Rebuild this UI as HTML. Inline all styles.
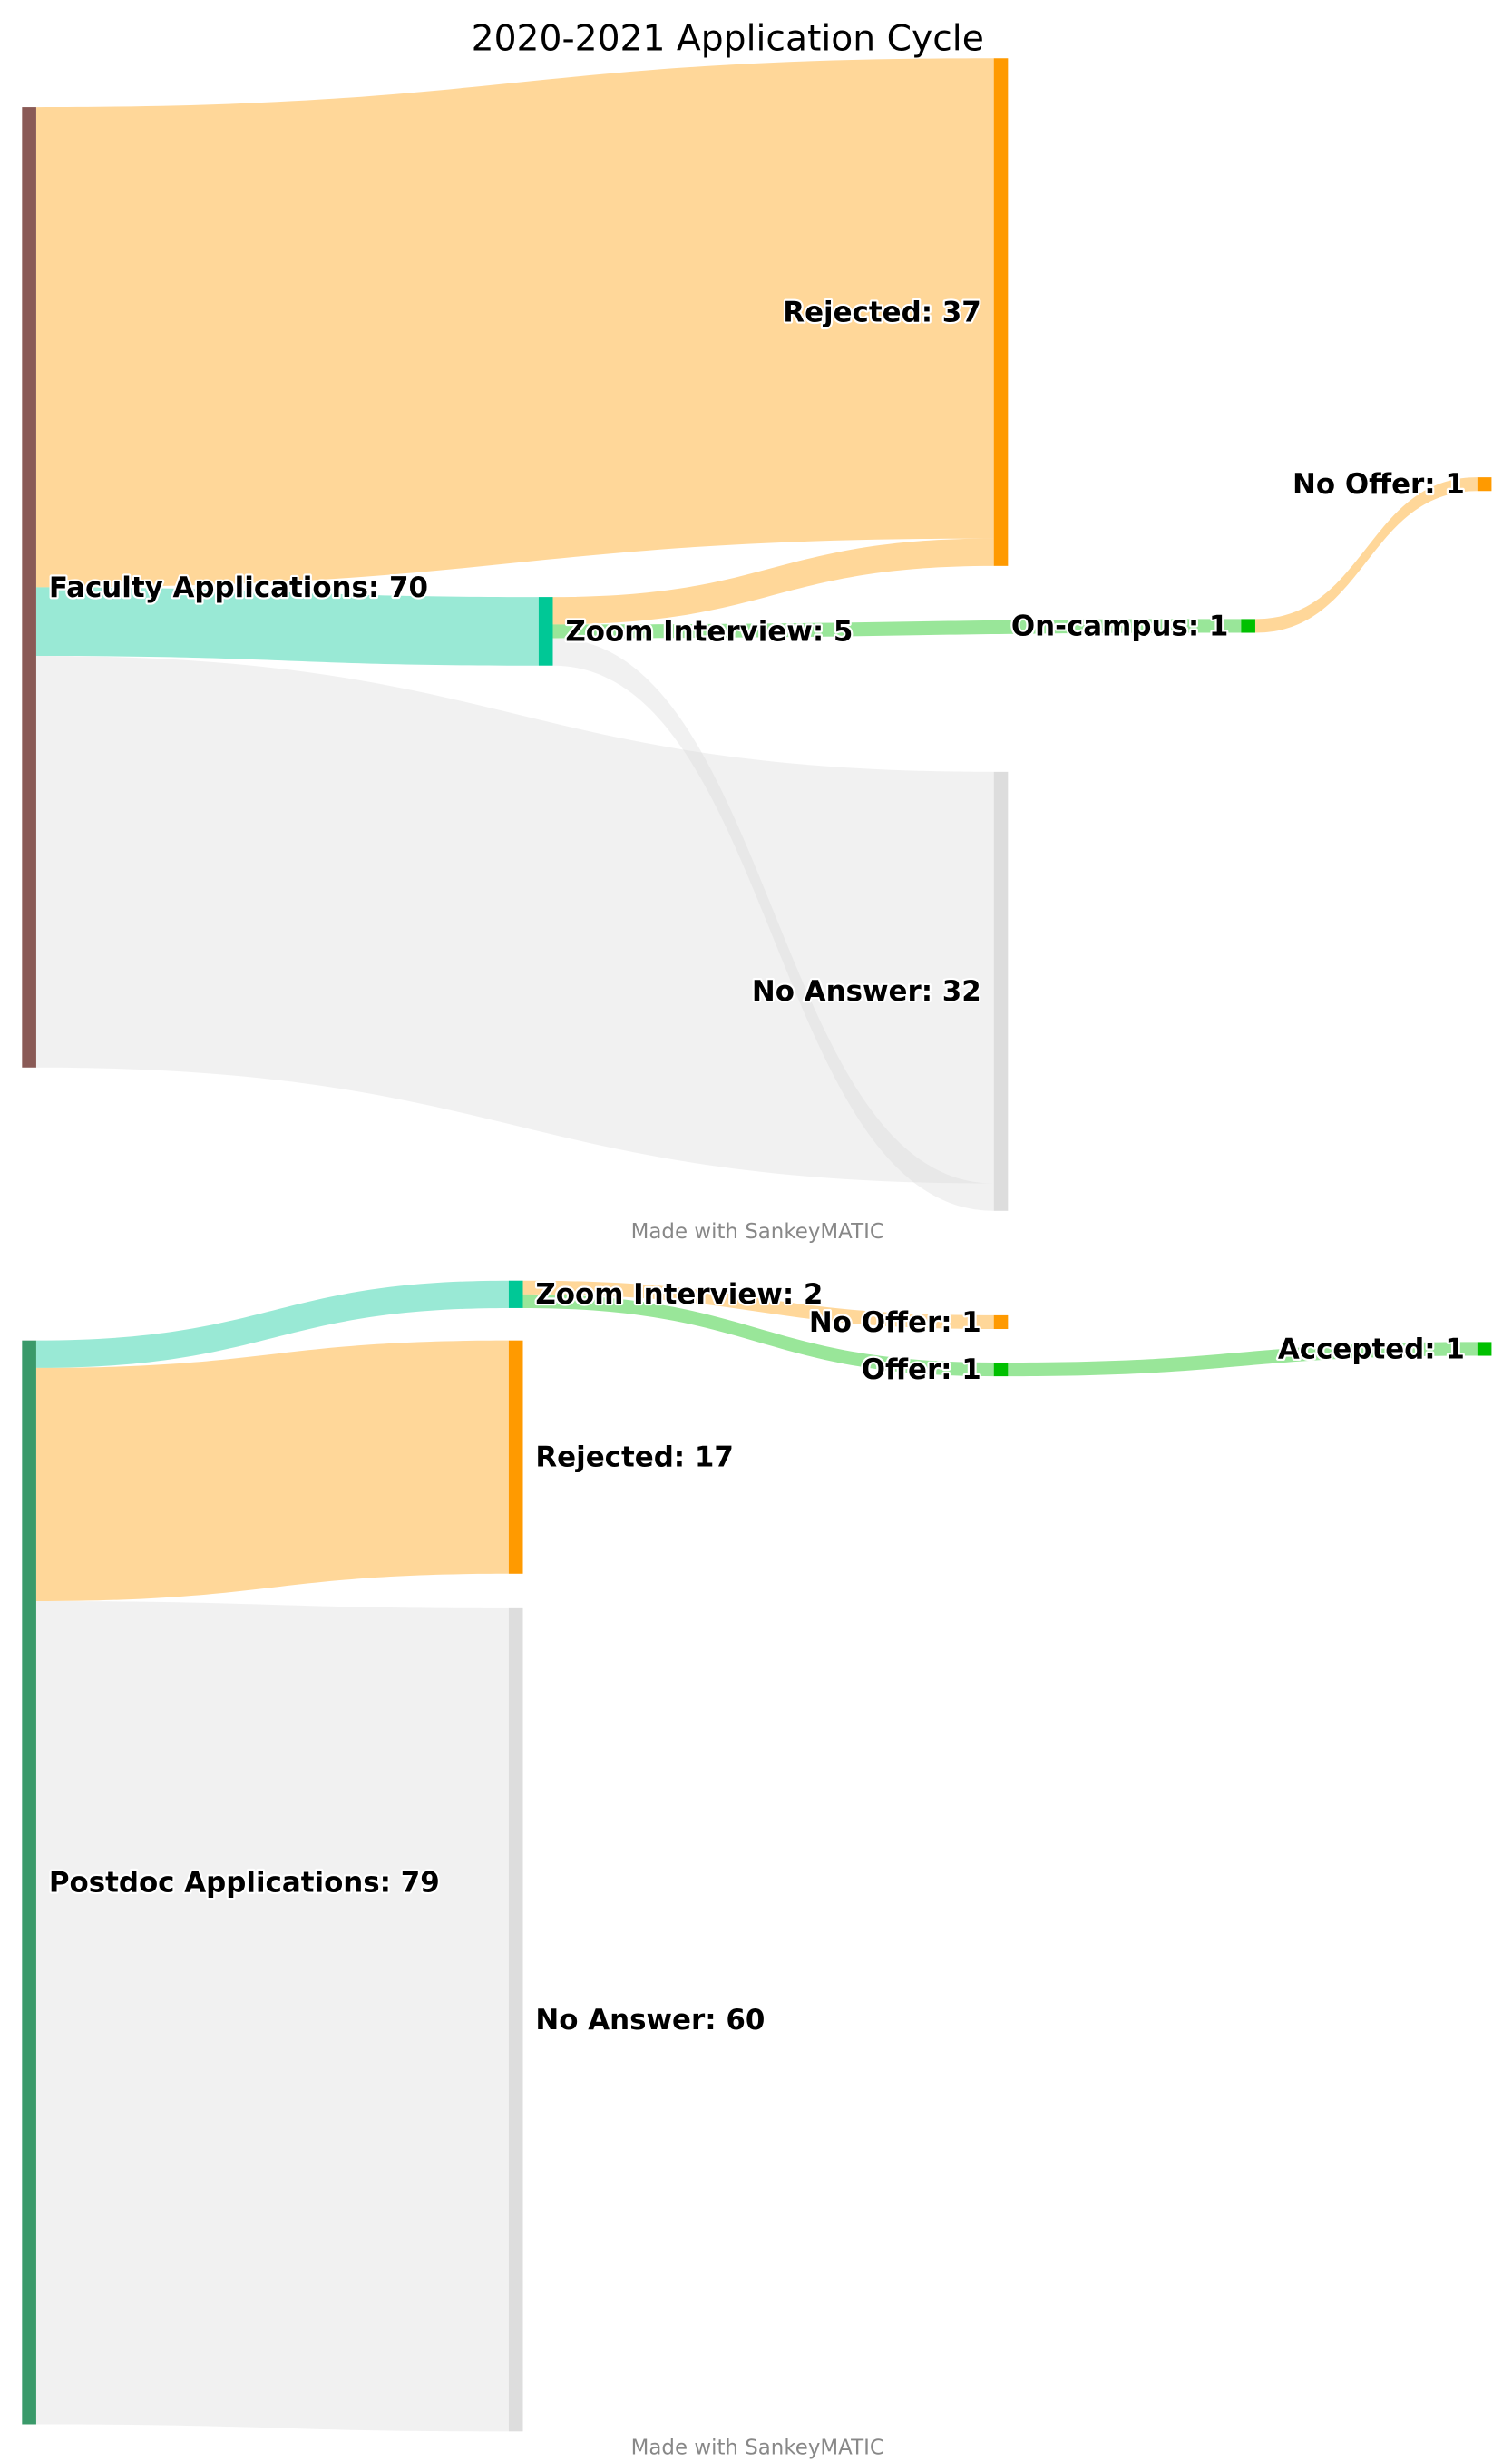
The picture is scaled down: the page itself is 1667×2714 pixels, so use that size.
<!DOCTYPE html>
<html><head><meta charset="utf-8"><style>
html,body{margin:0;padding:0;background:#fff;}
svg{display:block;}
text{font-family:"DejaVu Sans","Liberation Sans",sans-serif;}
.lbl{font-weight:bold;font-size:17.8px;fill:#000;paint-order:stroke;stroke:#fff;stroke-width:2.5px;stroke-linejoin:round;}
</style></head><body>
<svg id="chart" width="1667" height="2714" viewBox="0 0 960 1563" preserveAspectRatio="none" xmlns="http://www.w3.org/2000/svg">
<text x="462" y="32" text-anchor="middle" font-size="22.6" fill="#000">2020-2021 Application Cycle</text>
<g id="links"></g><g id="nodes"></g><g id="labels"></g>
<text x="481" y="786" text-anchor="middle" font-size="13.2" fill="#888">Made with SankeyMATIC</text>
<text x="481" y="1558" text-anchor="middle" font-size="13.2" fill="#888">Made with SankeyMATIC</text>
</svg>
<script>
// node data
const nodeNames = ["Faculty Applications","Rejected","Zoom Interview","No Answer","On-campus","No Offer",
                   "Postdoc Applications","Zoom Interview","Rejected","No Answer","No Offer","Offer","Accepted"];
const nodeValues = [70,37,5,32,1,1, 79,2,17,60,1,1,1];
// link data: source index, target index, value
const linkSources = [0,0,0,2,2,2,4, 6,6,6,7,7,11];
const linkTargets = [1,2,3,1,4,3,5, 7,8,9,10,11,12];
const linkValues  = [35,5,30,2,1,2,1, 2,17,60,1,1,1];

// layout (not data)
const scale = 8.71;
const nodeLayout = [
 {x:14,y:68,col:"#8a5a56",lab:"right"},
 {x:631,y:37,col:"#ff9a00",lab:"left"},
 {x:342,y:379,col:"#00c896",lab:"right"},
 {x:631,y:490,col:"#dddddd",lab:"left"},
 {x:788,y:393,col:"#00c000",lab:"left"},
 {x:938,y:303,col:"#ff9a00",lab:"left"},
 {x:14,y:851,col:"#3a9a6a",lab:"right"},
 {x:323,y:813,col:"#00c896",lab:"right"},
 {x:323,y:851,col:"#ff9a00",lab:"right"},
 {x:323,y:1021,col:"#dddddd",lab:"right"},
 {x:631,y:835,col:"#ff9a00",lab:"left"},
 {x:631,y:865,col:"#00c000",lab:"left"},
 {x:938,y:852,col:"#00c000",lab:"left"}
];
const NW = 9;
const NS = "http://www.w3.org/2000/svg";
const gL = document.getElementById('links'), gN = document.getElementById('nodes'), gT = document.getElementById('labels');
const outOff = nodeLayout.map(()=>0), inOff = nodeLayout.map(()=>0);
for (let i=0;i<linkValues.length;i++){
  const s=linkSources[i], t=linkTargets[i], w=linkValues[i]*scale;
  const sn=nodeLayout[s], tn=nodeLayout[t];
  const x0=sn.x+NW, x1=tn.x, y0=sn.y+outOff[s], y1=tn.y+inOff[t];
  outOff[s]+=w; inOff[t]+=w;
  const xm=(x0+x1)/2;
  const p=document.createElementNS(NS,'path');
  p.setAttribute('d',`M${x0},${y0}C${xm},${y0} ${xm},${y1} ${x1},${y1}L${x1},${y1+w}C${xm},${y1+w} ${xm},${y0+w} ${x0},${y0+w}Z`);
  p.setAttribute('fill',tn.col);
  p.setAttribute('fill-opacity','0.4');
  
  
  gL.appendChild(p);
}
for (let i=0;i<nodeNames.length;i++){
  const n=nodeLayout[i], h=nodeValues[i]*scale;
  const r=document.createElementNS(NS,'rect');
  r.setAttribute('x',n.x); r.setAttribute('y',n.y); r.setAttribute('width',NW); r.setAttribute('height',h);
  r.setAttribute('fill',n.col);
  
  
  gN.appendChild(r);
  const t=document.createElementNS(NS,'text');
  t.setAttribute('class','lbl');
  t.setAttribute('y',n.y+h/2+6);
  if(n.lab==="right"){t.setAttribute('x',n.x+NW+8);}
  else{t.setAttribute('x',n.x-8);t.setAttribute('text-anchor','end');}
  t.textContent=nodeNames[i]+': '+nodeValues[i];
  
  
  gT.appendChild(t);
}
</script>
</body></html>
